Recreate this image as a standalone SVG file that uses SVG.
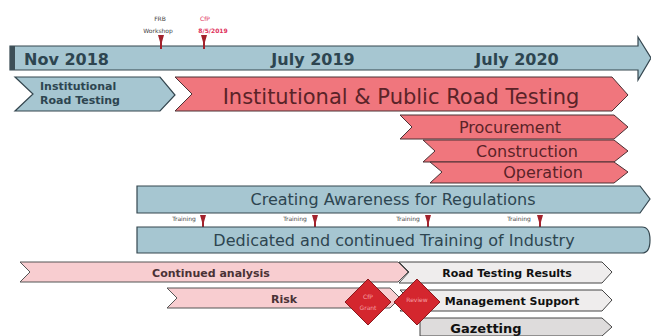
<svg xmlns="http://www.w3.org/2000/svg" width="651" height="336" viewBox="0 0 651 336">
<style>
text{font-family:"DejaVu Sans","Liberation Sans",sans-serif}
.blue{fill:#a6c6d1;stroke:#34464f;stroke-width:1.2}
.pink{fill:#f0767d;stroke:#4a3034;stroke-width:1}
.lpink{fill:#f8cdd0;stroke:#555;stroke-width:1}
.gray{fill:#efeded;stroke:#444;stroke-width:1}
.dgray{fill:#dedcdc;stroke:#444;stroke-width:1}
.dia{fill:#d4262e;stroke:#8a1a1e;stroke-width:1}
.tb{fill:#2d4550}
.tp{fill:#5a2328}
.tk{fill:#111}
.mk{fill:#a3222c}
.tiny{font-size:6px;fill:#444}
</style>
<rect width="651" height="336" fill="#ffffff"/>
<g id="timeline">
<path class="blue" d="M10,46 H638 V37 L651,58 L638,80 V70 H10 Z"/>
<rect x="10" y="46" width="5" height="24" fill="#3d4f57"/>
<text x="24" y="65" font-size="16" font-weight="bold" class="tb">Nov 2018</text>
<text x="313" y="65" font-size="16" font-weight="bold" class="tb" text-anchor="middle">July 2019</text>
<text x="517" y="65" font-size="16" font-weight="bold" class="tb" text-anchor="middle">July 2020</text>
</g>
<g id="milestones">
<text x="160" y="21" class="tiny" text-anchor="middle">FRB</text>
<text x="158" y="33" class="tiny" text-anchor="middle">Workshop</text>
<text x="205" y="21" font-size="6" fill="#e0305a" text-anchor="middle">CfP</text>
<text x="213" y="33" font-size="6" font-weight="bold" fill="#e0305a" text-anchor="middle">8/5/2019</text>
<path class="mk" d="M158,35 H164 L162,42 V49 H160 V42 Z"/>
<path class="mk" d="M201,35 H207 L205,42 V49 H203 V42 Z"/>
</g>
<g id="institutional">
<path class="blue" d="M15,77 H160 L175,95 L160,111 H15 L33,94 Z"/>
<text x="40" y="90" font-size="11" font-weight="bold" class="tb">Institutional</text>
<text x="40" y="104" font-size="11" font-weight="bold" class="tb">Road Testing</text>
</g>
<g id="public">
<path class="pink" d="M175,77 H612 L628,95 L612,111 H175 L192,94 Z"/>
<text x="401" y="104" font-size="21" class="tp" text-anchor="middle">Institutional &amp; Public Road Testing</text>
</g>
<g id="procurement">
<path class="pink" d="M400,115 H614 L628,127 L614,139 H400 L412,127 Z"/>
<text x="510" y="133" font-size="16" class="tp" text-anchor="middle">Procurement</text>
</g>
<g id="construction">
<path class="pink" d="M423,140 H614 L628,151 L614,162 H423 L435,151 Z"/>
<text x="527" y="157" font-size="16" class="tp" text-anchor="middle">Construction</text>
</g>
<g id="operation">
<path class="pink" d="M430,162 H614 L628,172 L614,183 H430 L442,172 Z"/>
<text x="543" y="178" font-size="16" class="tp" text-anchor="middle">Operation</text>
</g>
<g id="awareness">
<path class="blue" d="M137,186 H640 L650,199 L640,213 H137 Z"/>
<text x="393" y="205" font-size="16" class="tb" text-anchor="middle">Creating Awareness for Regulations</text>
</g>
<g id="trainings">
<text x="184" y="221" class="tiny" text-anchor="middle">Training</text>
<text x="295" y="221" class="tiny" text-anchor="middle">Training</text>
<text x="408" y="221" class="tiny" text-anchor="middle">Training</text>
<text x="519" y="221" class="tiny" text-anchor="middle">Training</text>
<path class="mk" d="M200,215 H206 L204,222 V229 H202 V222 Z"/>
<path class="mk" d="M312,215 H318 L316,222 V229 H314 V222 Z"/>
<path class="mk" d="M425,215 H431 L429,222 V229 H427 V222 Z"/>
<path class="mk" d="M537,215 H543 L541,222 V229 H539 V222 Z"/>
</g>
<g id="training">
<path class="blue" d="M137,227 H642 Q650,227 650,240 Q650,253 642,253 H137 Z"/>
<text x="394" y="246" font-size="16" class="tb" text-anchor="middle">Dedicated and continued Training of Industry</text>
</g>
<g id="analysis">
<path class="lpink" d="M20,262 H398 L408,272 L398,282 H20 L30,272 Z"/>
<text x="211" y="277" font-size="11" font-weight="bold" fill="#4a3236" text-anchor="middle">Continued analysis</text>
</g>
<g id="risk">
<path class="lpink" d="M167,288 H390 L400,298 L390,308 H167 L177,298 Z"/>
<text x="284" y="303" font-size="11" font-weight="bold" fill="#4a3236" text-anchor="middle">Risk</text>
</g>
<g id="results">
<path class="gray" d="M399,262 H602 L612,272 L602,283 H399 L409,272 Z"/>
<text x="507" y="277" font-size="11" font-weight="bold" class="tk" text-anchor="middle">Road Testing Results</text>
</g>
<g id="management">
<path class="gray" d="M400,290 H602 L612,300 L602,311 H400 L410,300 Z"/>
<text x="512" y="305" font-size="11" font-weight="bold" class="tk" text-anchor="middle">Management Support</text>
</g>
<g id="gazetting">
<path class="dgray" d="M420,318 H602 L612,327 L602,336 H420 Z"/>
<text x="486" y="333" font-size="13" font-weight="bold" class="tk" text-anchor="middle">Gazetting</text>
</g>
<g id="cfpgrant">
<path class="dia" d="M368,279 L391,302 L368,325 L345,302 Z"/>
<text x="368" y="299" font-size="6" fill="#f4a0a6" text-anchor="middle">CfP</text>
<text x="368" y="310" font-size="6" fill="#f4a0a6" text-anchor="middle">Grant</text>
</g>
<g id="review">
<path class="dia" d="M417,279 L440,302 L417,325 L394,302 Z"/>
<text x="417" y="302" font-size="6" fill="#f4a0a6" text-anchor="middle">Review</text>
</g>
</svg>
